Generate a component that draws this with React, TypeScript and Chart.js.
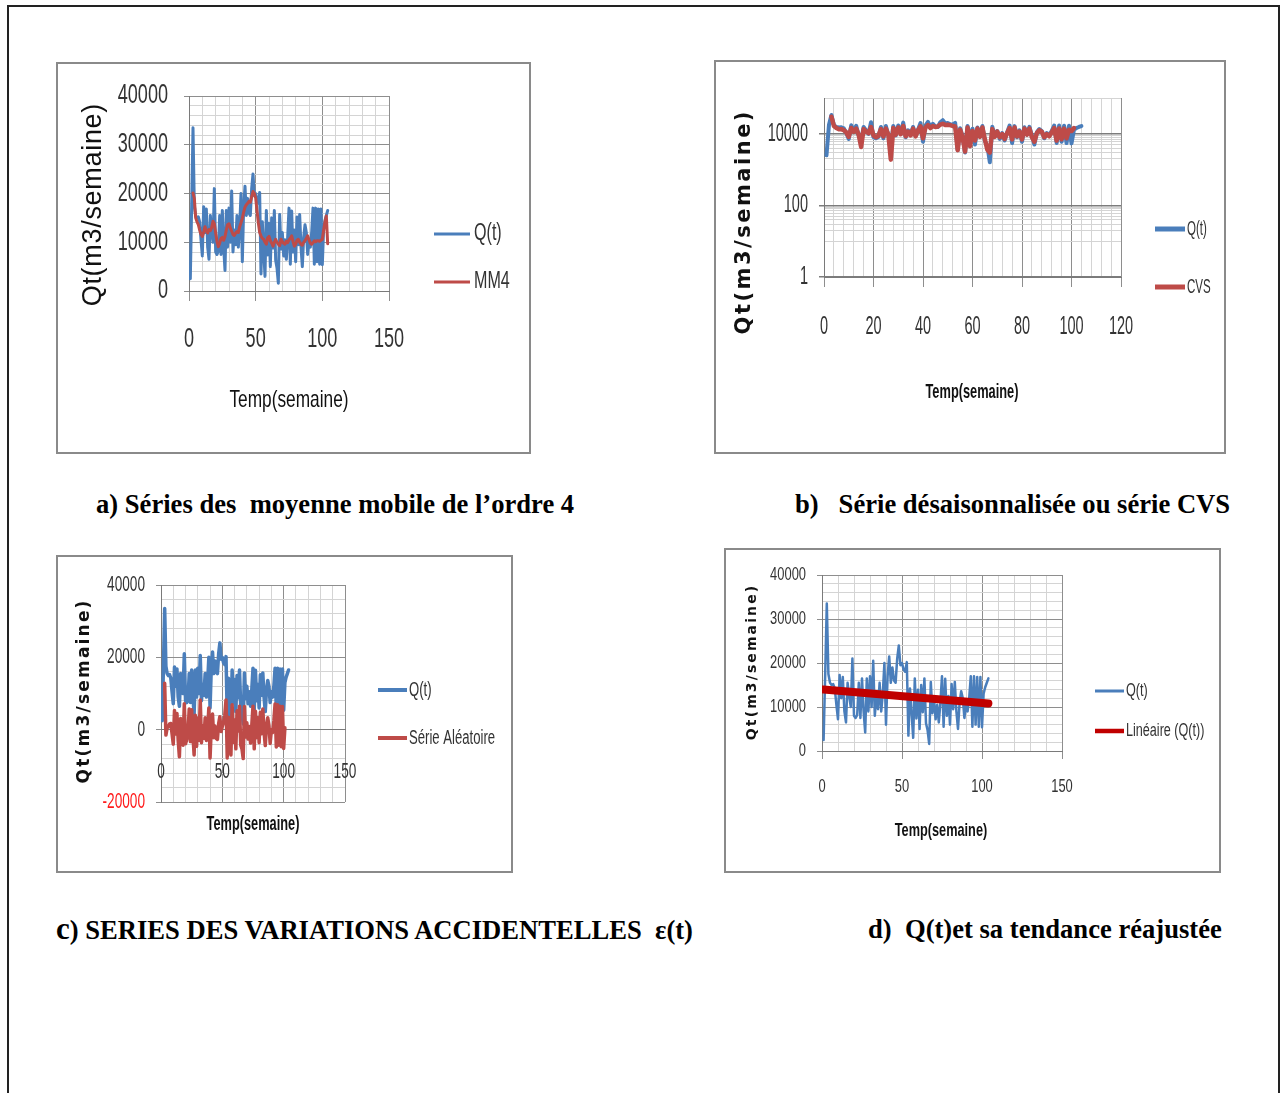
import React, { useEffect, useRef } from "react";
import { Chart, registerables } from "chart.js";

Chart.register(...registerables);

// ---- data ---------------------------------------------------------------

// weekly flow Q(t), weeks 1..104
const qStart = 1;
const qValues = [
  2500, 17500, 33500, 17500, 15500, 15000, 15200, 14200, 10500, 7200,
  17300, 12000, 16800, 9000, 6500, 15500, 12500, 10000, 21000, 8000,
  7500, 8200, 15500, 7500, 16500, 9000, 4200, 16500, 9000, 17000,
  10000, 20500, 8000, 12500, 9500, 15500, 9000, 13000, 20000, 6000,
  17000, 21500, 15500, 19000, 16000, 15500, 21000, 24000, 19500, 20000,
  18500, 18000, 20200, 3500, 14200, 8500, 3000, 16500, 7400, 13900,
  5000, 15000, 8800, 16500, 6300, 4700, 1600, 15700, 8600, 12000,
  7200, 10500, 6500, 11000, 17000, 5500, 16400, 8000, 12500, 6000,
  15200, 9500, 15700, 9000, 5000, 11000, 13600, 12000, 7500, 10500,
  9000, 12000, 17000, 5500, 17000, 6000, 16800, 5500, 16800, 5400,
  13000, 14500, 15500, 16500,
];

// order-4 moving average, weeks 3..104
const mm4Start = 3;
const mm4Values = [
  20100, 19000, 15000, 14200, 13600, 12500, 11600, 11200,
  12000, 13200, 12300, 11900, 12600, 12400, 13000, 14300, 13800, 11900,
  10200, 9100, 9800, 10800, 11000, 10400, 11200, 12500, 13600, 13800,
  12900, 12300, 11600, 11400, 11900, 12200, 12000, 13200, 14000, 14900,
  16200, 17200, 17700, 18000, 18400, 18200, 19300, 20400, 20000, 19100,
  16500, 14000, 12000, 11300, 10800, 10600, 10000, 9600, 10900, 11200,
  10300, 9800, 9200, 10000, 10600, 10000, 9600, 9300, 10600, 10100,
  9800, 9600, 10200, 9900, 10500, 10800, 11300, 10200, 9200, 9600,
  10400, 10600, 10000, 9600, 9400, 10000, 10300, 10800, 11300, 10500,
  9800, 9600, 9900, 10300, 10100, 10300, 10300, 10200, 10400, 10600,
  12500, 14200, 15400, 9700,
];

// seasonally adjusted series (CVS), weeks 3..101
const cvsStart = 3;
const cvsValues = [
  30000, 16500, 14500, 13500, 13500, 12500, 11000, 8200,
  14500, 11500, 14000, 9500, 4300, 13500, 11500, 10500, 15500, 9000,
  8000, 8800, 13500, 8500, 14000, 9500, 1900, 14500, 9500, 15000,
  9800, 16500, 8500, 11500, 9000, 14000, 8500, 12500, 16000, 7500,
  15000, 17500, 14500, 16500, 15500, 16000, 18000, 19000, 17500, 18000,
  17500, 16500, 16000, 3500, 13000, 7800, 3200, 15000, 4500, 12000,
  6500, 14000, 8200, 15000, 7000, 3600, 3000, 13500, 8200, 11500,
  8000, 9800, 7200, 10500, 14500, 7000, 15000, 8500, 11500, 7000,
  14000, 9500, 14000, 8000, 6000, 10500, 12500, 11500, 8000, 9800,
  8500, 11000, 14500, 6500, 14000, 7000, 14000, 7500, 13000, 12000,
  14500,
];

// irregular component ε(t), weeks 3..101
const aleaStart = 3;
const aleaValues = [
  12800, -1500, 500, 800, 1600, 1700, -1100, -4000,
  5300, -1200, 4500, -2900, -7500, 3100, -500, -4300, 7200, -3900,
  -2700, -900, 5700, -3300, 5500, -1400, -7000, 4000, -4600, 3200,
  -2900, 8200, -3600, 1100, -2400, 3300, -3000, -200, 6000, -7800,
  800, 4300, -2200, 1000, -2400, -2700, 1700, 3600, -500, 900,
  2000, 4000, 8200, -7800, 3400, -2100, -7000, 6900, -3500, 2700,
  -5300, 5200, -400, 6500, -4300, -5300, -8000, 6400, -2000, 1900,
  -2600, 900, -3700, 1100, 6500, -5300, 5100, -2200, 3300, -3600,
  4800, -1100, 5700, -600, -4400, 1000, 3300, 1200, -3800, 0,
  -800, 2400, 7100, -4800, 6900, -4300, 6500, -4700, 6400, -5200,
  500,
];

// fitted linear trend of Q(t)
const trendWeeks = [1, 104];
const trendValues = [14000, 10800];

// axis tick labels
const weekTicks150 = [0, 50, 100, 150];
const weekTicks120 = [0, 20, 40, 60, 80, 100, 120];
const flowTicks40k = [0, 10000, 20000, 30000, 40000];
const flowTicksLog = [1, 100, 10000];
const flowTicksSigned = [-20000, 0, 20000, 40000];

// ---- styling ------------------------------------------------------------

const BLUE = "#4A7EBB";
const RED = "#BE4B48";
const TREND = "#C00000";
const MAJOR = "#8E8E8E";
const MINOR = "#D4D4D4";
const AXIS = "#7A7A7A";
const LABEL = "#333333";
const SANS = "'Liberation Sans', Arial, sans-serif";
const WIDE = "'DejaVu Sans', Verdana, sans-serif";

const toPoints = (start: number, values: number[]) =>
  values.map((y, i) => ({ x: start + i, y }));
const toPairs = (xs: number[], ys: number[]) => xs.map((x, i) => ({ x, y: ys[i] }));

// text drawn with a horizontal squeeze, giving the tall narrow lettering
function squeezed(
  ctx: CanvasRenderingContext2D,
  text: string,
  x: number,
  y: number,
  font: string,
  sx: number,
  align: CanvasTextAlign,
  color: string
) {
  ctx.save();
  ctx.font = font;
  ctx.fillStyle = color;
  ctx.textAlign = align;
  ctx.textBaseline = "middle";
  ctx.translate(x, y);
  ctx.scale(sx, 1);
  ctx.fillText(text, 0, 0);
  ctx.restore();
}

type Txt = { font: string; sx: number };
type TickText = Txt & { axis: "x" | "y"; values: number[]; at: number; color?: (v: number) => string };
type Title = { text: string; x: number; y: number; font: string; rotate?: boolean; spacing?: number; sx?: number };
type LegendOpts = Txt & { x: number; len: number; ys: number[]; widths: number[]; gap: number };

// tick labels, Excel-style side legend and axis captions
const decor = {
  id: "decor",
  afterDraw(chart: any, _args: any, opts: any) {
    const ctx: CanvasRenderingContext2D = chart.ctx;

    (opts.ticks || []).forEach((t: TickText) => {
      const scale = chart.scales[t.axis];
      t.values.forEach((v) => {
        const color = t.color ? t.color(v) : LABEL;
        const p = scale.getPixelForValue(v);
        if (t.axis === "y") squeezed(ctx, String(v), t.at, p, t.font, t.sx, "right", color);
        else squeezed(ctx, String(v), p, t.at, t.font, t.sx, "center", color);
      });
    });

    const L: LegendOpts | undefined = opts.legend;
    if (L) {
      chart.data.datasets.forEach((ds: any, i: number) => {
        const y = L.ys[i];
        ctx.save();
        ctx.strokeStyle = ds.borderColor;
        ctx.lineWidth = L.widths[i];
        ctx.lineCap = "butt";
        ctx.beginPath();
        ctx.moveTo(L.x, y);
        ctx.lineTo(L.x + L.len, y);
        ctx.stroke();
        ctx.restore();
        squeezed(ctx, ds.label, L.x + L.len + L.gap, y, L.font, L.sx, "left", LABEL);
      });
    }

    (opts.titles || []).forEach((t: Title) => {
      ctx.save();
      ctx.font = t.font;
      ctx.fillStyle = "#111";
      (ctx as any).letterSpacing = `${t.spacing || 0}px`;
      ctx.translate(t.x, t.y);
      if (t.rotate) ctx.rotate(-Math.PI / 2);
      ctx.scale(t.sx || 1, 1);
      ctx.textAlign = "center";
      ctx.textBaseline = "middle";
      ctx.fillText(t.text, (t.spacing || 0) / 2, 0);
      ctx.restore();
    });
  },
};

type AxisOpts = {
  min: number;
  max: number;
  step?: number;
  majors: number[];
  tickLen: number;
  fit?: number;
  isX: boolean;
  log?: boolean;
  custom?: number[];
  position?: any;
  majorColor?: string;
  majorWidth?: number;
};

function axis(o: AxisOpts) {
  const isMajor = (v: number) => o.majors.includes(v);
  const cfg: any = {
    type: o.log ? "logarithmic" : "linear",
    min: o.min,
    max: o.max,
    position: o.position || (o.isX ? "bottom" : "left"),
    grid: {
      color: (c: any) => (c.tick && isMajor(c.tick.value) ? o.majorColor || MAJOR : MINOR),
      tickColor: (c: any) => (c.tick && isMajor(c.tick.value) ? o.majorColor || MAJOR : "rgba(0,0,0,0)"),
      lineWidth: (c: any) => (c.tick && isMajor(c.tick.value) ? o.majorWidth || 1 : 1),
      tickLength: o.tickLen,
      drawTicks: o.tickLen > 0,
    },
    border: { color: AXIS, width: 1 },
    ticks: { display: false, autoSkip: false, maxRotation: 0, minRotation: 0 },
  };
  if (o.step) cfg.ticks.stepSize = o.step;
  if (o.custom) {
    const vals = o.custom;
    cfg.afterBuildTicks = (s: any) => {
      s.ticks = vals.map((value) => ({ value }));
    };
  }
  if (o.fit !== undefined) {
    const f = o.fit;
    cfg.afterFit = (s: any) => {
      if (o.isX) s.height = f;
      else s.width = f;
    };
  }
  return cfg;
}

function lineSet(label: string, data: any[], color: string, width: number, order: number) {
  return {
    label,
    data,
    borderColor: color,
    backgroundColor: color,
    borderWidth: width,
    pointRadius: 0,
    tension: 0,
    borderJoinStyle: "round" as const,
    borderCapStyle: "round" as const,
    order,
  };
}

function baseOptions(padding: any, scales: any, decorOpts: any) {
  return {
    responsive: false,
    animation: false as const,
    devicePixelRatio: 1,
    layout: { padding },
    scales,
    plugins: { legend: { display: false }, tooltip: { enabled: false }, decor: decorOpts },
  };
}

// ---- the four panels ----------------------------------------------------

const configA = () => ({
  type: "line" as const,
  data: {
    datasets: [
      lineSet("Q(t)", toPoints(qStart, qValues), BLUE, 3, 1),
      lineSet("MM4", toPoints(mm4Start, mm4Values), RED, 3, 0),
    ],
  },
  options: baseOptions(
    { left: 0, top: 32, right: 140, bottom: 0 },
    {
      x: axis({ min: 0, max: 150, step: 10, majors: weekTicks150, tickLen: 10, fit: 161, isX: true }),
      y: axis({ min: 0, max: 40000, step: 2000, majors: flowTicks40k, tickLen: 5, fit: 131, isX: false }),
    },
    {
      ticks: [
        { axis: "x", values: weekTicks150, at: 276, font: `27px ${SANS}`, sx: 0.67 },
        { axis: "y", values: flowTicks40k, at: 110, font: `27px ${SANS}`, sx: 0.67 },
      ],
      legend: { x: 376, len: 36, ys: [170, 218], widths: [3, 3], font: `23px ${SANS}`, sx: 0.7, gap: 4 },
      titles: [
        { text: "Qt(m3/semaine)", x: 36, y: 141, font: `27px ${SANS}`, rotate: true, spacing: 0.7 },
        { text: "Temp(semaine)", x: 231, y: 336, font: `24px ${SANS}`, sx: 0.72 },
      ],
    }
  ),
  plugins: [decor],
});

const logGrid = [1, 10, 20, 30, 40, 50, 60, 70, 80, 90, 100, 1000, 2000, 3000, 4000, 5000, 6000, 7000, 8000, 9000, 10000, 100000];

const configB = () => ({
  type: "line" as const,
  data: {
    datasets: [
      lineSet("Q(t)", toPoints(qStart, qValues), BLUE, 4, 1),
      lineSet("CVS", toPoints(cvsStart, cvsValues), RED, 4.5, 0),
    ],
  },
  options: baseOptions(
    { left: 0, top: 36, right: 103, bottom: 0 },
    {
      x: axis({ min: 0, max: 120, step: 4, majors: weekTicks120, tickLen: 10, fit: 175, isX: true }),
      y: axis({
        min: 1, max: 100000, majors: [1, 100, 10000], tickLen: 5, fit: 108, isX: false, log: true, custom: logGrid,
        majorColor: "#7C7C7C", majorWidth: 1.5,
      }),
    },
    {
      ticks: [
        { axis: "x", values: weekTicks120, at: 265, font: `25px ${SANS}`, sx: 0.58 },
        { axis: "y", values: flowTicksLog, at: 92, font: `25px ${SANS}`, sx: 0.58 },
      ],
      legend: { x: 439, len: 30, ys: [167, 225], widths: [5, 5], font: `21px ${SANS}`, sx: 0.55, gap: 2 },
      titles: [
        { text: "Qt(m3/semaine)", x: 29, y: 161, font: `bold 21px ${WIDE}`, rotate: true, spacing: 2.5 },
        { text: "Temp(semaine)", x: 256, y: 330, font: `bold 21px ${SANS}`, sx: 0.61 },
      ],
    }
  ),
  plugins: [decor],
});

const configC = () => ({
  type: "line" as const,
  data: {
    datasets: [
      lineSet("Q(t)", toPoints(qStart, qValues), BLUE, 3.5, 1),
      lineSet("Série Aléatoire", toPoints(aleaStart, aleaValues), RED, 3.5, 0),
    ],
  },
  options: baseOptions(
    { left: 0, top: 28, right: 166, bottom: 69 },
    {
      x: axis({ min: 0, max: 150, step: 10, majors: weekTicks150, tickLen: 0, isX: true, position: { y: 0 } }),
      y: axis({ min: -20000, max: 40000, step: 4000, majors: flowTicksSigned, tickLen: 5, fit: 103, isX: false }),
    },
    {
      ticks: [
        { axis: "x", values: weekTicks150, at: 215, font: `22px ${SANS}`, sx: 0.62 },
        {
          axis: "y", values: flowTicksSigned, at: 87, font: `22px ${SANS}`, sx: 0.62,
          color: (v: number) => (v < 0 ? "#FF1A1A" : LABEL),
        },
      ],
      legend: { x: 320, len: 29, ys: [133, 181], widths: [4, 4], font: `20px ${SANS}`, sx: 0.656, gap: 2 },
      titles: [
        { text: "Qt(m3/semaine)", x: 27, y: 135, font: `bold 17px ${WIDE}`, rotate: true, spacing: 2.2 },
        { text: "Temp(semaine)", x: 195, y: 267, font: `bold 20px ${SANS}`, sx: 0.64 },
      ],
    }
  ),
  plugins: [decor],
});

const configD = () => ({
  type: "line" as const,
  data: {
    datasets: [
      lineSet("Q(t)", toPoints(qStart, qValues), BLUE, 2.5, 1),
      lineSet("Linéaire (Q(t))", toPairs(trendWeeks, trendValues), TREND, 8, 0),
    ],
  },
  options: baseOptions(
    { left: 0, top: 25, right: 157, bottom: 0 },
    {
      x: axis({ min: 0, max: 150, step: 10, majors: weekTicks150, tickLen: 8, fit: 120, isX: true }),
      y: axis({ min: 0, max: 40000, step: 2000, majors: flowTicks40k, tickLen: 5, fit: 96, isX: false }),
    },
    {
      ticks: [
        { axis: "x", values: weekTicks150, at: 237, font: `19px ${SANS}`, sx: 0.68 },
        { axis: "y", values: flowTicks40k, at: 80, font: `19px ${SANS}`, sx: 0.68 },
      ],
      legend: { x: 369, len: 29, ys: [141, 181], widths: [3, 4.5], font: `18px ${SANS}`, sx: 0.7, gap: 2 },
      titles: [
        { text: "Qt(m3/semaine)", x: 26, y: 113, font: `bold 14px ${WIDE}`, rotate: true, spacing: 2.1 },
        { text: "Temp(semaine)", x: 215, y: 281, font: `bold 19px ${SANS}`, sx: 0.67 },
      ],
    }
  ),
  plugins: [decor],
});

// ---- layout -------------------------------------------------------------

type Box = { left: number; top: number; width: number; height: number };

function Panel({ box, make }: { box: Box; make: () => any }) {
  const ref = useRef<HTMLCanvasElement>(null);
  useEffect(() => {
    if (!ref.current) return;
    const chart = new Chart(ref.current, make());
    return () => chart.destroy();
  }, []);
  return (
    <div
      style={{
        position: "absolute",
        left: box.left,
        top: box.top,
        width: box.width,
        height: box.height,
        border: "2px solid #8a8a8a",
        boxSizing: "border-box",
        background: "#fff",
      }}
    >
      <canvas ref={ref} width={box.width - 4} height={box.height - 4} style={{ display: "block" }} />
    </div>
  );
}

const captionStyle: React.CSSProperties = {
  position: "absolute",
  fontFamily: "'Liberation Serif', 'Times New Roman', serif",
  fontWeight: "bold",
  fontSize: 26.6,
  lineHeight: "30px",
  whiteSpace: "pre",
  color: "#000",
};

export default function App() {
  return (
    <div style={{ position: "absolute", left: 0, top: 0, width: 1281, height: 1093, overflow: "hidden", background: "#fff" }}>
      <div
        style={{
          position: "absolute",
          left: 7,
          top: 5,
          width: 1273,
          height: 1200,
          borderTop: "2px solid #222",
          borderLeft: "2px solid #222",
          borderRight: "2px solid #222",
          boxSizing: "border-box",
        }}
      />
      <Panel box={{ left: 56, top: 62, width: 475, height: 392 }} make={configA} />
      <Panel box={{ left: 714, top: 60, width: 512, height: 394 }} make={configB} />
      <Panel box={{ left: 56, top: 555, width: 457, height: 318 }} make={configC} />
      <Panel box={{ left: 724, top: 548, width: 497, height: 325 }} make={configD} />

      <div style={{ ...captionStyle, left: 96, top: 489 }}>a) Séries des  moyenne mobile de l’ordre 4</div>
      <div style={{ ...captionStyle, left: 795, top: 489 }}>b)   Série désaisonnalisée ou série CVS</div>
      <div style={{ ...captionStyle, left: 56, top: 914 }}>
        <span style={{ fontSize: 31 }}>c</span>) SERIES DES VARIATIONS ACCIDENTELLES  ε(t)
      </div>
      <div style={{ ...captionStyle, left: 868, top: 914 }}>d)  Q(t)et sa tendance réajustée</div>
    </div>
  );
}
